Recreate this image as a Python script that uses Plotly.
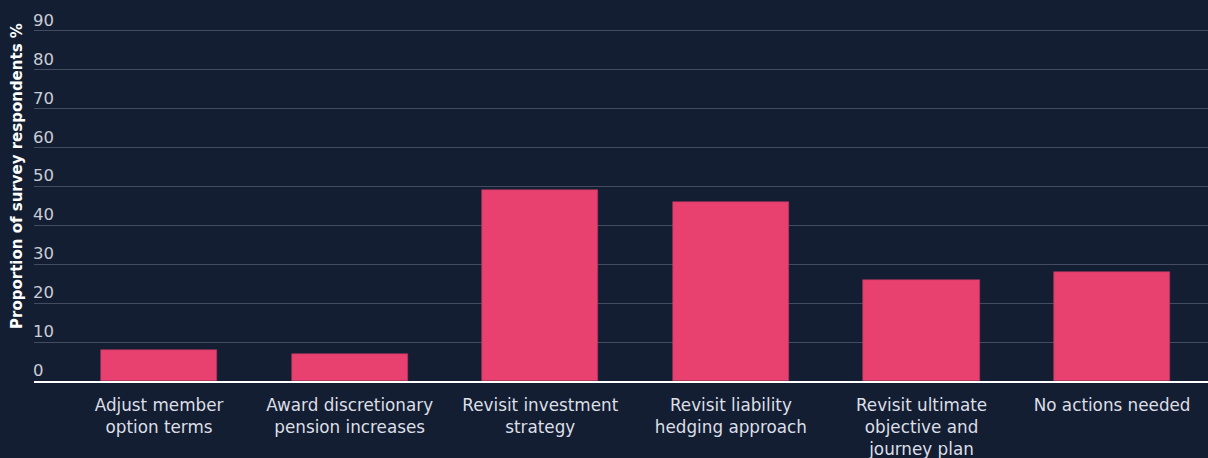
import plotly.graph_objects as go

# Survey: actions considered by pension schemes
categories = [
    "Adjust member<br>option terms",
    "Award discretionary<br>pension increases",
    "Revisit investment<br>strategy",
    "Revisit liability<br>hedging approach",
    "Revisit ultimate<br>objective and<br>journey plan",
    "No actions needed",
]
respondents_pct = [8, 7, 49, 46, 26, 28]
y_ticks = [0, 10, 20, 30, 40, 50, 60, 70, 80, 90]
y_title = "Proportion of survey respondents %"

BG = "#141e33"
BAR = "#e8406f"
GRID = "#434c60"
TEXT = "#dcdfe5"
FONT = "DejaVu Sans"

W, H = 1208, 458
M_L, M_R, M_T, M_B = 34, 0, 27, 77

fig = go.Figure(
    go.Bar(
        x=list(range(len(categories))),
        y=respondents_pct,
        width=0.61,
        marker=dict(color=BAR, line=dict(color="#b23560", width=0.6)),
        hoverinfo="skip",
    )
)

fig.update_layout(
    width=W,
    height=H,
    paper_bgcolor=BG,
    plot_bgcolor=BG,
    margin=dict(l=M_L, r=M_R, t=M_T, b=M_B),
    showlegend=False,
    font=dict(family=FONT, color=TEXT),
    bargap=0,
)

fig.update_xaxes(
    tickmode="array",
    tickvals=list(range(len(categories))),
    ticktext=categories,
    range=[-0.656, 5.503],
    showgrid=False,
    zeroline=False,
    showline=True,
    linecolor="#ffffff",
    linewidth=2,
    ticks="",
    tickfont=dict(size=16.8, color=TEXT, family=FONT),
    ticklabelstandoff=8,
)

# gridlines from the axis, value labels sit just above each gridline
fig.update_yaxes(
    range=[0, 91],
    tickmode="array",
    tickvals=y_ticks,
    showticklabels=False,
    showgrid=True,
    gridcolor=GRID,
    gridwidth=1,
    zeroline=False,
    ticks="",
)

for v in y_ticks:
    fig.add_annotation(
        x=0, xref="paper", xanchor="left",
        y=v, yref="y", yanchor="bottom",
        yshift=-1, xshift=-3,
        text=str(v), showarrow=False,
        font=dict(size=16.5, color="#c9cdd5", family=FONT),
    )

# rotated axis title in the left margin
fig.add_annotation(
    x=(17 - M_L) / (W - M_L - M_R), xref="paper", xanchor="center",
    y=(H - M_B - 176) / (H - M_T - M_B), yref="paper", yanchor="middle",
    text=f"<b>{y_title}</b>", textangle=-90, showarrow=False,
    font=dict(size=15, color="#ffffff", family=FONT),
)

fig.write_html("out.html")
